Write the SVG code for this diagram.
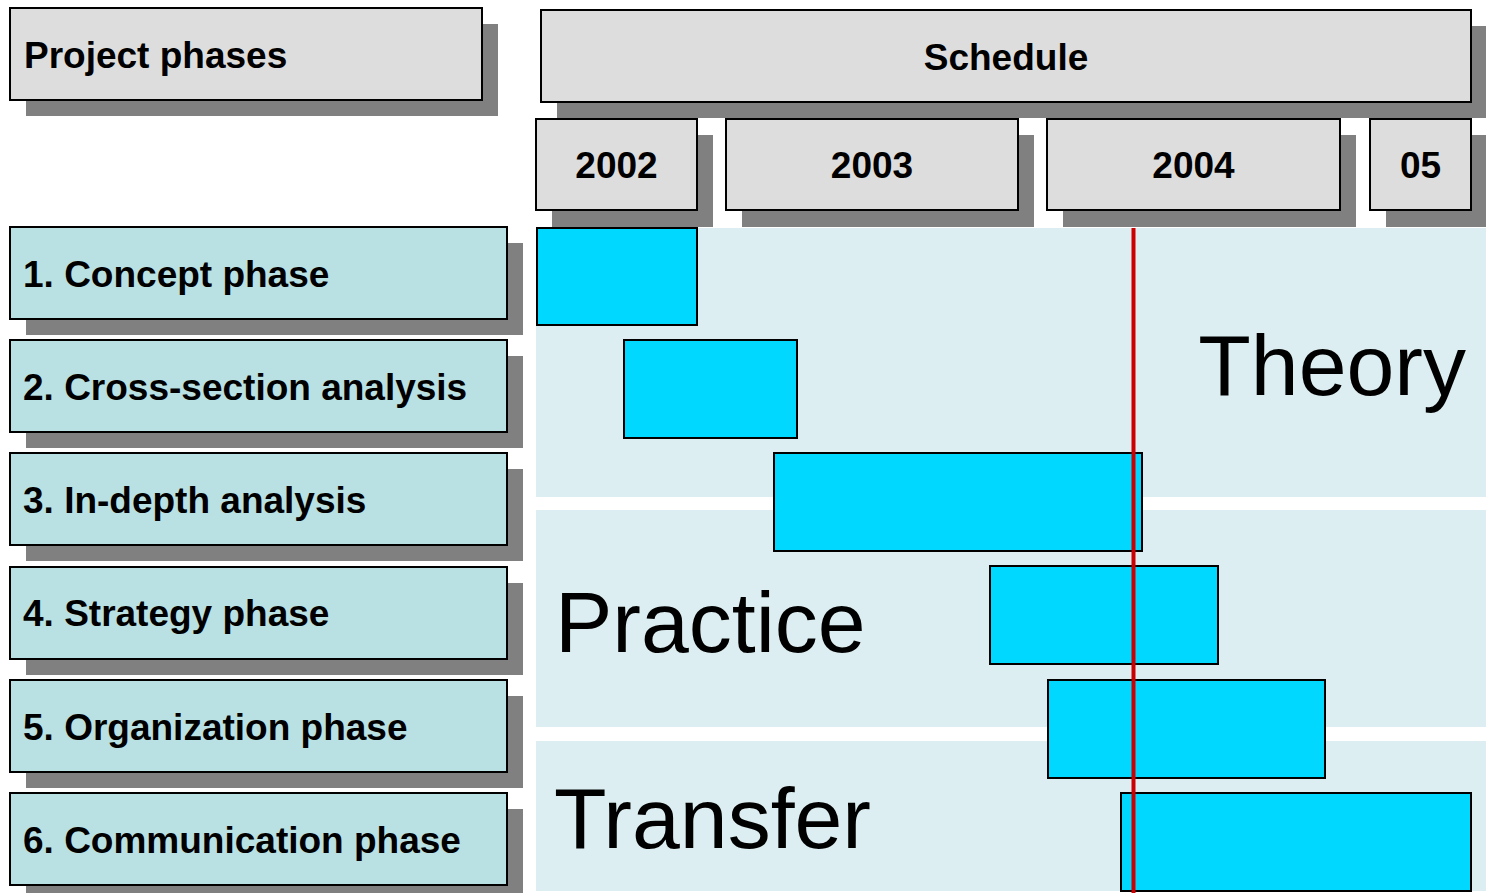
<svg xmlns="http://www.w3.org/2000/svg" width="1486" height="893" viewBox="0 0 1486 893">
<style>
.sh{fill:#808080}
.hd{fill:#DDDDDD;stroke:#000;stroke-width:2}
.ph{fill:#B9E0E3;stroke:#000;stroke-width:2}
.band{fill:#DCEEF1}
.bar{fill:#00D8FF;stroke:#000;stroke-width:2}
.t{font-family:"Liberation Sans",Arial,sans-serif;font-weight:bold;font-size:37px;fill:#000}
.big{font-family:"Liberation Sans",Arial,sans-serif;font-size:86px;fill:#000}
</style>
<rect x="0" y="0" width="1486" height="893" fill="#FFFFFF"/>
<g id="header-phases">
<rect class="sh" x="26" y="24" width="472" height="92"/>
<rect class="hd" x="10" y="8" width="472" height="92"/>
<text class="t" x="24" y="68">Project phases</text>
</g>
<g id="header-schedule">
<rect class="sh" x="557" y="26" width="930" height="92"/>
<rect class="hd" x="541" y="10" width="930" height="92"/>
<text class="t" x="1006" y="70" text-anchor="middle">Schedule</text>
</g>
<g id="year-2002">
<rect class="sh" x="552" y="135" width="161" height="92"/>
<rect class="hd" x="536" y="119" width="161" height="91"/>
<text class="t" x="616.5" y="178" text-anchor="middle">2002</text>
</g>
<g id="year-2003">
<rect class="sh" x="742" y="135" width="292" height="92"/>
<rect class="hd" x="726" y="119" width="292" height="91"/>
<text class="t" x="872" y="178" text-anchor="middle">2003</text>
</g>
<g id="year-2004">
<rect class="sh" x="1063" y="135" width="293" height="92"/>
<rect class="hd" x="1047" y="119" width="293" height="91"/>
<text class="t" x="1193.5" y="178" text-anchor="middle">2004</text>
</g>
<g id="year-05">
<rect class="sh" x="1386" y="135" width="102" height="92"/>
<rect class="hd" x="1370" y="119" width="101" height="91"/>
<text class="t" x="1420.5" y="178" text-anchor="middle">05</text>
</g>
<g id="band-theory">
<rect class="band" x="536" y="228" width="950" height="269"/>
<text class="big" x="1466" y="395" text-anchor="end">Theory</text>
</g>
<g id="band-practice">
<rect class="band" x="536" y="510" width="950" height="217"/>
<text class="big" x="555" y="652">Practice</text>
</g>
<g id="band-transfer">
<rect class="band" x="536" y="741" width="950" height="150"/>
<text class="big" x="554" y="848">Transfer</text>
</g>
<g id="phase-1">
<rect class="sh" x="26" y="243" width="497" height="92"/>
<rect class="ph" x="10" y="227" width="497" height="92"/>
<text class="t" x="23" y="287">1. Concept phase</text>
</g>
<g id="phase-2">
<rect class="sh" x="26" y="356" width="497" height="92"/>
<rect class="ph" x="10" y="340" width="497" height="92"/>
<text class="t" x="23" y="400">2. Cross-section analysis</text>
</g>
<g id="phase-3">
<rect class="sh" x="26" y="469" width="497" height="92"/>
<rect class="ph" x="10" y="453" width="497" height="92"/>
<text class="t" x="23" y="513">3. In-depth analysis</text>
</g>
<g id="phase-4">
<rect class="sh" x="26" y="583" width="497" height="92"/>
<rect class="ph" x="10" y="567" width="497" height="92"/>
<text class="t" x="23" y="626">4. Strategy phase</text>
</g>
<g id="phase-5">
<rect class="sh" x="26" y="696" width="497" height="92"/>
<rect class="ph" x="10" y="680" width="497" height="92"/>
<text class="t" x="23" y="740">5. Organization phase</text>
</g>
<g id="phase-6">
<rect class="sh" x="26" y="809" width="497" height="92"/>
<rect class="ph" x="10" y="793" width="497" height="92"/>
<text class="t" x="23" y="853">6. Communication phase</text>
</g>
<g id="bar-1"><rect class="bar" x="537" y="228" width="160" height="97"/></g>
<g id="bar-2"><rect class="bar" x="624" y="340" width="173" height="98"/></g>
<g id="bar-3"><rect class="bar" x="774" y="453" width="368" height="98"/></g>
<g id="bar-4"><rect class="bar" x="990" y="566" width="228" height="98"/></g>
<g id="bar-5"><rect class="bar" x="1048" y="680" width="277" height="98"/></g>
<g id="bar-6"><rect class="bar" x="1121" y="793" width="350" height="98"/></g>
<g id="connectors">
<line id="today-line" x1="1133.5" y1="228" x2="1133.5" y2="893" stroke="#CC0000" stroke-width="4"/>
</g>
</svg>
